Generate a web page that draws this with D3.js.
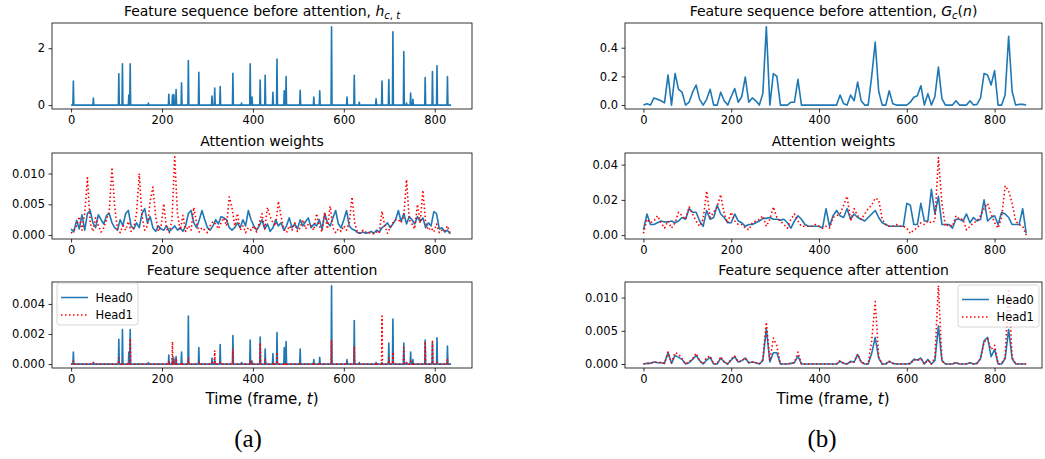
<!DOCTYPE html>
<html>
<head>
<meta charset="utf-8">
<script src="https://cdn.jsdelivr.net/npm/d3@7"></script>
<style>
	body { margin: 0; background: #fff; }
	svg text { font-family: 'DejaVu Sans', sans-serif; fill: #000; }
</style>
</head>
<body>
<svg id="chart" width="1045" height="459"></svg>
<script>
// ---- (a) frame-level data ----
var frameCount = 837;
var spikeFrames = [5, 49, 105, 113, 127, 130, 170, 215, 223, 226, 231, 243, 258, 281, 310, 316, 328, 356, 375, 394, 398, 416, 427, 444, 453, 469, 473, 504, 534, 547, 573, 607, 623, 634, 671, 684, 699, 708, 732, 738, 747, 752, 779, 795, 805, 828];
var hBefore = [0.85, 0.25, 1.1, 1.45, 0.35, 1.45, 0.07, 0.38, 0.35, 0.37, 0.55, 0.78, 1.57, 1.15, 0.32, 0.6, 0.65, 1.12, 0.07, 1.45, 0.28, 0.88, 1.05, 0.45, 1.62, 0.5, 1.0, 0.52, 0.28, 0.5, 2.75, 0.28, 1.05, 0.1, 0.22, 0.85, 0.9, 2.58, 1.88, 0.07, 0.42, 0.2, 0.97, 1.18, 1.38, 1.0];
var head0AfterA = [0.0008, 0.0001, 0.00165, 0.0023, 0.0008, 0.0023, 0.0001, 0.0006, 0.0004, 0.0004, 0.0005, 0.0008, 0.0032, 0.0011, 0.0004, 0.0003, 0.0013, 0.0019, 0.0001, 0.0016, 0.0002, 0.0018, 0.001, 0.0007, 0.0021, 0.0011, 0.0015, 0.001, 0.0003, 0.00045, 0.0052, 0.0003, 0.0029, 0.0001, 0.0001, 0.0001, 0.0014, 0.003, 0.0014, 0.0001, 0.0008, 0.0003, 0.0016, 0.0014, 0.00175, 0.0012];
var head1AfterA = [0.0002, 0.0001, 0.0004, 0.0001, 0.0001, 0.0017, 0, 0.0002, 0.0015, 0.0002, 0.0004, 0.0001, 0.0004, 0.0001, 0.0001, 0.0009, 0.0001, 0.001, 0, 0.0002, 0.0001, 0.0014, 0.0003, 0.0001, 0.0008, 0.0001, 0.0001, 0.0001, 0.0001, 0.0001, 0.0016, 0.0001, 0.0012, 0, 0.0001, 0.0032, 0.0004, 0.0008, 0.0011, 0.0001, 0.0002, 0.0001, 0.0015, 0.0016, 0.0001, 0.0003];

// attention weights, one value every 6 frames
var attnStepA = 6;
var attn0A = [0.001, 0.0005, 0.0024, 0.001, 0.0033, 0.0008, 0.0035, 0.004, 0.002, 0.0012,
	0.0033, 0.0025, 0.0018, 0.0032, 0.0035, 0.002, 0.0012, 0.0008, 0.0025, 0.0015,
	0.0035, 0.004, 0.0015, 0.001, 0.002, 0.0012, 0.0035, 0.0043, 0.002, 0.003,
	0.0012, 0.0006, 0.0015, 0.001, 0.0008, 0.0015, 0.0006, 0.001, 0.0015, 0.0008,
	0.0012, 0.0006, 0.0015, 0.0035, 0.004, 0.002, 0.0012, 0.0025, 0.004, 0.0025,
	0.0012, 0.0008, 0.0015, 0.0025, 0.0018, 0.003, 0.0028, 0.0025, 0.0012, 0.0008,
	0.0012, 0.002, 0.0012, 0.0025, 0.0015, 0.004, 0.0025, 0.0015, 0.0008, 0.0015,
	0.0025, 0.001, 0.0018, 0.0006, 0.0012, 0.0025, 0.0015, 0.002, 0.0008, 0.0015,
	0.0028, 0.0012, 0.0018, 0.001, 0.0025, 0.0015, 0.0022, 0.0028, 0.0012, 0.0018,
	0.0015, 0.0025, 0.001, 0.0035, 0.002, 0.0015, 0.0028, 0.004, 0.0018, 0.0012,
	0.0025, 0.004, 0.0015, 0.001, 0.0008, 0.0004, 0.0003, 0.0005, 0.0003, 0.0004,
	0.0006, 0.0003, 0.0008, 0.0005, 0.0012, 0.0015, 0.002, 0.0012, 0.0018, 0.0025,
	0.004, 0.0022, 0.0035, 0.0018, 0.003, 0.0025, 0.0018, 0.003, 0.0022, 0.0028,
	0.0012, 0.002, 0.0015, 0.0038, 0.0035, 0.001, 0.0012, 0.0005, 0.0008, 0.0002];
var attn1A = [0.0003, 0.0008, 0.0015, 0.003, 0.0008, 0.0035, 0.0093, 0.002, 0.0006, 0.0028,
	0.0015, 0.0005, 0.0012, 0.0025, 0.004, 0.011, 0.0045, 0.001, 0.0004, 0.0015,
	0.0008, 0.0022, 0.0006, 0.0012, 0.0035, 0.01, 0.003, 0.0008, 0.0015, 0.0055,
	0.0078, 0.003, 0.0006, 0.0015, 0.0051, 0.001, 0.0004, 0.0025, 0.0127, 0.0035,
	0.0008, 0.0032, 0.0006, 0.0015, 0.0008, 0.0045, 0.002, 0.0005, 0.0012, 0.0008,
	0.0004, 0.0015, 0.0022, 0.0018, 0.001, 0.002, 0.0028, 0.0015, 0.0062, 0.0045,
	0.0015, 0.0035, 0.0008, 0.0015, 0.0004, 0.0012, 0.0008, 0.0015, 0.0005, 0.002,
	0.0035, 0.001, 0.0045, 0.003, 0.002, 0.0015, 0.0055, 0.003, 0.001, 0.0004,
	0.0015, 0.0008, 0.002, 0.0006, 0.0012, 0.0025, 0.001, 0.0018, 0.0015, 0.0008,
	0.0035, 0.0015, 0.0005, 0.0037, 0.001, 0.0047, 0.0012, 0.0004, 0.001, 0.0006,
	0.0015, 0.0008, 0.002, 0.0062, 0.002, 0.0005, 0.0003, 0.0008, 0.0005, 0.0003,
	0.0004, 0.0002, 0.0005, 0.0003, 0.0039, 0.0015, 0.0003, 0.0012, 0.002, 0.0025,
	0.0025, 0.002, 0.003, 0.009, 0.0025, 0.0018, 0.001, 0.005, 0.002, 0.0073,
	0.002, 0.0008, 0.0012, 0.0005, 0.0018, 0.0004, 0.0008, 0.0006, 0.0015, 0.0003];

// ---- (b) segment-level data, one value every 8 frames ----
var stepB = 8;
var gBefore = [0, 0.01, 0, 0.05, 0.04, 0.03, 0.015, 0.21, 0, 0.22,
	0.11, 0.09, 0, 0.02, 0.09, 0.14, 0.04, 0, 0.04, 0.11,
	0, 0, 0.09, 0.03, 0, 0.06, 0.115, 0.02, 0.06, 0.195,
	0.02, 0.05, 0.03, 0, 0.08, 0.545, 0, 0.22, 0.2, 0,
	0, 0, 0.02, 0.02, 0.18, 0, 0, 0, 0, 0,
	0, 0, 0, 0, 0, 0, 0.07, 0.01, 0, 0.07,
	0.03, 0.16, 0.03, 0, 0, 0.2, 0.44, 0.095, 0, 0,
	0.1, 0.01, 0, 0, 0, 0, 0.02, 0.055, 0.065, 0.135,
	0, 0.08, 0, 0.06, 0.265, 0.045, 0, 0, 0, 0.03,
	0, 0, 0, 0.03, 0, 0.005, 0.05, 0.22, 0.21, 0.14,
	0.24, 0, 0, 0.07, 0.48, 0.095, 0, 0.005, 0.005, 0];
var attn0B = [0.003, 0.012, 0.006, 0.006, 0.007, 0.008, 0.0075, 0.0075, 0.008, 0.007,
	0.008, 0.01, 0.009, 0.015, 0.013, 0.013, 0.008, 0.005, 0.014, 0.009,
	0.01, 0.017, 0.012, 0.01, 0.007, 0.007, 0.012, 0.008, 0.007, 0.005,
	0.006, 0.006, 0.007, 0.008, 0.0095, 0.0095, 0.01, 0.009, 0.009, 0.0085,
	0.009, 0.007, 0.004, 0.008, 0.011, 0.009, 0.006, 0.005, 0.005, 0.005,
	0.005, 0.004, 0.015, 0.005, 0.011, 0.014, 0.011, 0.01, 0.015, 0.009,
	0.012, 0.01, 0.009, 0.008, 0.01, 0.012, 0.014, 0.01, 0.007, 0.006,
	0.005, 0.005, 0.005, 0.005, 0.005, 0.018, 0.017, 0.006, 0.006, 0.018,
	0.008, 0.008, 0.026, 0.012, 0.022, 0.006, 0.006, 0.006, 0.004, 0.009,
	0.009, 0.008, 0.012, 0.007, 0.01, 0.008, 0.009, 0.02, 0.008, 0.01,
	0.011, 0.006, 0.013, 0.012, 0.01, 0.006, 0.006, 0.006, 0.015, 0.001];
var attn1B = [0.001, 0.009, 0.007, 0.008, 0.011, 0.007, 0.004, 0.008, 0.004, 0.007,
	0.013, 0.011, 0.009, 0.016, 0.012, 0.008, 0.005, 0.009, 0.025, 0.01,
	0.013, 0.016, 0.023, 0.012, 0.007, 0.013, 0.008, 0.006, 0.006, 0.004,
	0.003, 0.007, 0.008, 0.009, 0.011, 0.005, 0.009, 0.016, 0.01, 0.008,
	0.006, 0.004, 0.009, 0.012, 0.008, 0.005, 0.005, 0.005, 0.005, 0.006,
	0.005, 0.004, 0.005, 0.004, 0.01, 0.011, 0.012, 0.017, 0.022, 0.008,
	0.015, 0.011, 0.009, 0.012, 0.015, 0.017, 0.021, 0.02, 0.009, 0.006,
	0.005, 0.005, 0.006, 0.005, 0.005, 0.004, 0.001, 0.003, 0.004, 0.007,
	0.006, 0.008, 0.007, 0.008, 0.044, 0.018, 0.005, 0.006, 0.005, 0.011,
	0.009, 0.009, 0.003, 0.005, 0.007, 0.008, 0.011, 0.015, 0.018, 0.012,
	0.007, 0.004, 0.01, 0.028, 0.025, 0.018, 0.008, 0.006, 0.005, 0];
var head0AfterB = [0, 0.0001, 0.0001, 0.0003, 0.0002, 0.0002, 0.0001, 0.0017, 0.0001, 0.0013,
	0.001, 0.0007, 0, 0.0002, 0.0007, 0.0013, 0.0005, 0, 0.0006, 0.001,
	0, 0, 0.0009, 0.0003, 0, 0.0006, 0.0011, 0.0003, 0.0005, 0.0009,
	0.0002, 0.0003, 0.0002, 0, 0.0005, 0.0053, 0.0003, 0.0017, 0.0017, 0,
	0, 0, 0.0001, 0.0002, 0.0012, 0, 0, 0, 0, 0,
	0, 0, 0, 0, 0, 0, 0.0004, 0.0001, 0, 0.0004,
	0.0003, 0.0014, 0.0003, 0, 0, 0.0016, 0.004, 0.0009, 0, 0,
	0.0004, 0.0001, 0, 0, 0, 0, 0.0001, 0.0007, 0.0006, 0.0009,
	0, 0.0007, 0, 0.0005, 0.0057, 0.0005, 0, 0, 0, 0.0002,
	0, 0, 0, 0.0002, 0, 0.0001, 0.0008, 0.0035, 0.004, 0.0011,
	0.0022, 0, 0, 0.0008, 0.0052, 0.0008, 0, 0, 0, 0];
var head1AfterB = [0, 0.0001, 0.0001, 0.0003, 0.0003, 0.0002, 0.0001, 0.0018, 0.0002, 0.0017,
	0.0015, 0.0008, 0, 0.0003, 0.0008, 0.0016, 0.0005, 0, 0.001, 0.0012,
	0, 0, 0.0011, 0.0003, 0, 0.0008, 0.0012, 0.0003, 0.0005, 0.0009,
	0.0002, 0.0003, 0.0002, 0, 0.0007, 0.0063, 0.0005, 0.0039, 0.0027, 0,
	0, 0, 0.0001, 0.0002, 0.0018, 0, 0, 0, 0, 0,
	0, 0, 0, 0, 0, 0, 0.0005, 0.0001, 0, 0.0003,
	0.0003, 0.0015, 0.0003, 0, 0, 0.0035, 0.0094, 0.001, 0, 0,
	0.0004, 0.0001, 0, 0, 0, 0, 0, 0.0007, 0.0005, 0.0008,
	0, 0.0006, 0, 0.001, 0.0118, 0.0005, 0, 0, 0, 0.0002,
	0, 0, 0, 0.0002, 0, 0.0001, 0.0008, 0.0033, 0.0038, 0.0022,
	0.0028, 0, 0.0001, 0.001, 0.0113, 0.001, 0, 0, 0, 0];

var xTicks = [0, 200, 400, 600, 800];
var legendNames = ['Head0', 'Head1'];

var blue = '#1f77b4';
var red = '#ff0000';

// helpers
function spikeSeries(values) {
	var arr = d3.range(frameCount).map(function(i) { return [i, 0]; });
	spikeFrames.forEach(function(f, i) { arr[f][1] = values[i]; });
	return arr;
}

function stepSeries(values, step) {
	return values.map(function(v, i) { return [i * step, v]; });
}

var svg = d3.select('#chart');

function drawPanel(p) {
	var x = d3.scaleLinear().domain(p.xDomain).range(p.xRange);
	var y = d3.scaleLinear().domain(p.yDomain).range(p.yRange);
	var g = svg.append('g');

	var line = d3.line()
		.x(function(d) { return x(d[0]); })
		.y(function(d) { return y(d[1]); });

	p.series.forEach(function(s) {
		g.append('path')
			.datum(s.data)
			.attr('fill', 'none')
			.attr('stroke', s.color)
			.attr('stroke-width', 1.6)
			.attr('stroke-dasharray', s.dotted ? '1.5,2.5' : null)
			.attr('stroke-linejoin', 'round')
			.attr('d', line);
	});

	var xAxis = g.append('g')
		.attr('transform', 'translate(0,' + p.yRange[0] + ')')
		.call(d3.axisBottom(x).tickValues(xTicks).tickFormat(d3.format('d')).tickSizeInner(3.5).tickSizeOuter(0).tickPadding(3.5));
	var yAxis = g.append('g')
		.attr('transform', 'translate(' + p.xRange[0] + ',0)')
		.call(d3.axisLeft(y).tickValues(p.yTicks).tickFormat(d3.format(p.yFormat)).tickSizeInner(3.5).tickSizeOuter(0).tickPadding(3.5));

	[xAxis, yAxis].forEach(function(a) {
		a.select('.domain').remove();
		a.selectAll('line').attr('stroke', '#000').attr('stroke-width', 0.8);
		a.selectAll('text').attr('font-size', '11.5px').attr('font-family', 'DejaVu Sans');
	});

	g.append('rect')
		.attr('x', p.xRange[0])
		.attr('y', p.yRange[1])
		.attr('width', p.xRange[1] - p.xRange[0])
		.attr('height', p.yRange[0] - p.yRange[1])
		.attr('fill', 'none')
		.attr('stroke', '#000')
		.attr('stroke-width', 0.8);

	var title = g.append('text')
		.attr('x', (p.xRange[0] + p.xRange[1]) / 2)
		.attr('y', p.yRange[1] - 7.5)
		.attr('text-anchor', 'middle')
		.attr('font-size', '14px');
	p.title.forEach(function(t) {
		var ts = title.append('tspan').text(t.text);
		if (t.italic) ts.attr('font-style', 'italic');
		if (t.small) ts.attr('font-size', '10px');
		if (t.dy) ts.attr('dy', t.dy);
	});

	if (p.legend) {
		var lg = g.append('g').attr('transform', 'translate(' + p.legend[0] + ',' + p.legend[1] + ')');
		lg.append('rect')
			.attr('width', 81)
			.attr('height', 42)
			.attr('rx', 2.5)
			.attr('fill', '#fff')
			.attr('fill-opacity', 0.8)
			.attr('stroke', '#cccccc')
			.attr('stroke-width', 0.8);
		legendNames.forEach(function(name, i) {
			var yy = 14.5 + i * 17.5;
			lg.append('line')
				.attr('x1', 4).attr('x2', 31)
				.attr('y1', yy).attr('y2', yy)
				.attr('stroke', p.series[i].color)
				.attr('stroke-width', 1.5)
				.attr('stroke-dasharray', p.series[i].dotted ? '1.5,2.5' : null);
			lg.append('text')
				.attr('x', 38.5)
				.attr('y', yy + 4.2)
				.attr('font-size', '11.5px')
				.text(name);
		});
	}
}

var leftX = [52, 472];
var rightX = [625, 1042];
var rows = [[109, 23], [239, 153], [368, 282]];
var leftDomain = [-42, 882];
var rightDomain = [-42, 908];

drawPanel({
	xDomain: leftDomain, xRange: leftX, yRange: rows[0], yDomain: [-0.1375, 2.8875],
	yTicks: [0, 2], yFormat: 'd',
	title: [{ text: 'Feature sequence before attention, ' }, { text: 'h', italic: true },
		{ text: 'c', italic: true, small: true, dy: 3 }, { text: ', ', small: true }, { text: 't', italic: true, small: true }],
	series: [{ data: spikeSeries(hBefore), color: blue }]
});
drawPanel({
	xDomain: leftDomain, xRange: leftX, yRange: rows[1], yDomain: [-0.000635, 0.013335],
	yTicks: [0, 0.005, 0.01], yFormat: '.3f',
	title: [{ text: 'Attention weights' }],
	series: [{ data: stepSeries(attn0A, attnStepA), color: blue }, { data: stepSeries(attn1A, attnStepA), color: red, dotted: true }]
});
drawPanel({
	xDomain: leftDomain, xRange: leftX, yRange: rows[2], yDomain: [-0.00026, 0.00546],
	yTicks: [0, 0.002, 0.004], yFormat: '.3f',
	title: [{ text: 'Feature sequence after attention' }],
	series: [{ data: spikeSeries(head0AfterA), color: blue }, { data: spikeSeries(head1AfterA), color: red, dotted: true }],
	legend: [57, 283]
});
drawPanel({
	xDomain: rightDomain, xRange: rightX, yRange: rows[0], yDomain: [-0.02725, 0.57225],
	yTicks: [0, 0.2, 0.4], yFormat: '.1f',
	title: [{ text: 'Feature sequence before attention, ' }, { text: 'G', italic: true },
		{ text: 'c', italic: true, small: true, dy: 3 }, { text: '(', dy: -3 }, { text: 'n', italic: true }, { text: ')' }],
	series: [{ data: stepSeries(gBefore, stepB), color: blue }]
});
drawPanel({
	xDomain: rightDomain, xRange: rightX, yRange: rows[1], yDomain: [-0.0022, 0.0466],
	yTicks: [0, 0.02, 0.04], yFormat: '.2f',
	title: [{ text: 'Attention weights' }],
	series: [{ data: stepSeries(attn0B, stepB), color: blue }, { data: stepSeries(attn1B, stepB), color: red, dotted: true }]
});
drawPanel({
	xDomain: rightDomain, xRange: rightX, yRange: rows[2], yDomain: [-0.0006, 0.01234],
	yTicks: [0, 0.005, 0.01], yFormat: '.3f',
	title: [{ text: 'Feature sequence after attention' }],
	series: [{ data: stepSeries(head0AfterB, stepB), color: blue }, { data: stepSeries(head1AfterB, stepB), color: red, dotted: true }],
	legend: [958, 285]
});

// x labels and captions
[[262, 248, '(a)'], [833, 822, '(b)']].forEach(function(c) {
	var t = svg.append('text')
		.attr('x', c[0])
		.attr('y', 404)
		.attr('text-anchor', 'middle')
		.attr('font-size', '15px');
	t.append('tspan').text('Time (frame, ');
	t.append('tspan').attr('font-style', 'italic').text('t');
	t.append('tspan').text(')');

	svg.append('text')
		.attr('x', c[1])
		.attr('y', 447)
		.attr('text-anchor', 'middle')
		.attr('font-size', '25px')
		.style('font-family', "'Liberation Serif', serif")
		.text(c[2]);
});
</script>
</body>
</html>
